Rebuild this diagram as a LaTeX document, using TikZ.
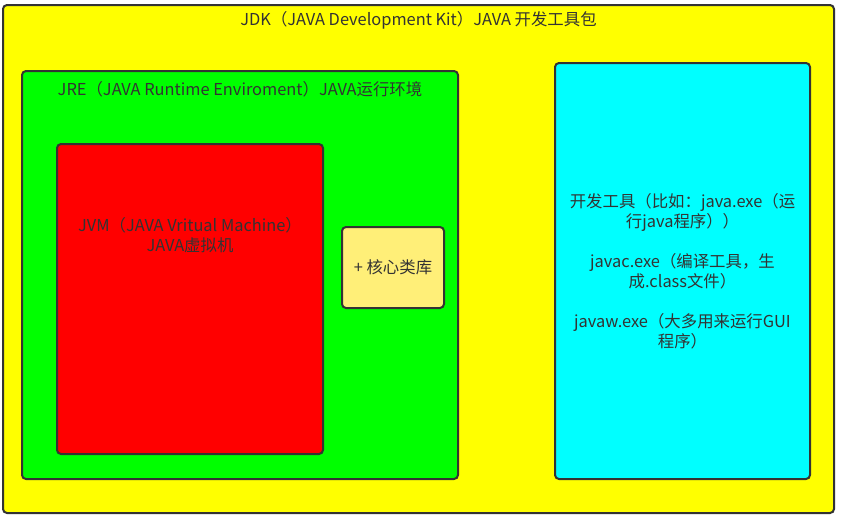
\documentclass[tikz,border=0pt]{standalone}
\usepackage{fontspec}
\setmainfont{Noto Sans CJK SC}
\usetikzlibrary{positioning}
\definecolor{edge}{HTML}{333333}
\definecolor{jdkfill}{HTML}{FFFF00}
\definecolor{jrefill}{HTML}{00FF00}
\definecolor{jvmfill}{HTML}{FF0000}
\definecolor{libfill}{HTML}{FFEF78}
\definecolor{toolfill}{HTML}{00FFFF}
\tikzset{
  pane/.style={draw=edge, line width=1.5pt, rounded corners=3pt, anchor=north west, inner sep=0pt},
  caption/.style={font=\fontsize{12.3}{15}\selectfont, text=edge, align=center, inner sep=0pt}
}
\begin{document}
\begin{tikzpicture}[x=0.75pt,y=-0.75pt]
  \useasboundingbox[fill=white] (0,0) rectangle (841,519);
  % outer box
  \node[pane, fill=jdkfill, minimum width=623.25pt, minimum height=381pt] (jdk) at (2,4) {};
  \node[caption] (jdktitle) at ([yshift=-12pt]jdk.north) {JDK（JAVA Development Kit）JAVA 开发工具包};
  % runtime
  \node[pane, fill=jrefill, minimum width=327pt, minimum height=306pt] (jre) at (21,70) {};
  \node[caption] (jretitle) at ([yshift=-14.25pt]jre.north) {JRE（JAVA Runtime Enviroment）JAVA运行环境};
  \node[pane, fill=jvmfill, minimum width=199.5pt, minimum height=232.5pt] (jvm) at (56,143) {};
  \node[caption] (jvmtext) at ([yshift=-69pt]jvm.north) {JVM（JAVA Vritual Machine）\\JAVA虚拟机};
  \node[pane, fill=libfill, minimum width=76.5pt, minimum height=60.75pt] (lib) at (341,226) {};
  \node[caption] (libtext) at (lib.center) {+ 核心类库};
  % tools
  \node[pane, fill=toolfill, minimum width=191.25pt, minimum height=312pt] (tools) at (554,62) {};
  \node[caption] (toolstext) at (tools.center) {开发工具（比如：java.exe（运\\行java程序））\\[15pt]javac.exe（编译工具，生\\成.class文件）\\[15pt]javaw.exe（大多用来运行GUI\\程序）};
\end{tikzpicture}
\end{document}
